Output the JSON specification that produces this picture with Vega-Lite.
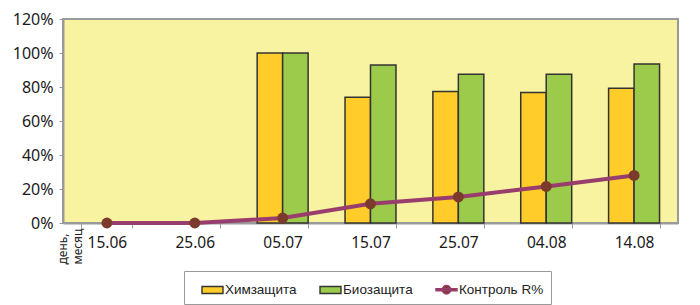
{
  "$schema": "https://vega.github.io/schema/vega-lite/v6.json",
  "width": 615,
  "height": 204,
  "autosize": "none",
  "padding": {"left": 63, "top": 19, "right": 22, "bottom": 82},
  "background": "white",
  "config": {
    "view": {"fill": "#F8F3A0", "stroke": "#9a9a9a", "strokeWidth": 2},
    "font": "Noto Sans"
  },
  "datasets": {
    "bars": [
      {"date": "05.07", "series": "Химзащита", "value": 1.0},
      {"date": "05.07", "series": "Биозащита", "value": 1.0},
      {"date": "15.07", "series": "Химзащита", "value": 0.74},
      {"date": "15.07", "series": "Биозащита", "value": 0.93},
      {"date": "25.07", "series": "Химзащита", "value": 0.773},
      {"date": "25.07", "series": "Биозащита", "value": 0.875},
      {"date": "04.08", "series": "Химзащита", "value": 0.767},
      {"date": "04.08", "series": "Биозащита", "value": 0.875},
      {"date": "14.08", "series": "Химзащита", "value": 0.793},
      {"date": "14.08", "series": "Биозащита", "value": 0.935}
    ],
    "ctrl": [
      {"date": "15.06", "value": 0.0},
      {"date": "25.06", "value": 0.0},
      {"date": "05.07", "value": 0.029},
      {"date": "15.07", "value": 0.113},
      {"date": "25.07", "value": 0.153},
      {"date": "04.08", "value": 0.215},
      {"date": "14.08", "value": 0.28}
    ]
  },
  "encoding": {
    "x": {
      "field": "date",
      "type": "nominal",
      "scale": {
        "domain": ["15.06", "25.06", "05.07", "15.07", "25.07", "04.08", "14.08"],
        "paddingInner": 0.42,
        "paddingOuter": 0.21
      },
      "axis": {
        "labelAngle": 0,
        "labelFontSize": 15.5,
        "labelColor": "#1a1a1a",
        "labelPadding": 7,
        "tickBand": "extent",
        "tickColor": "#9a9a9a",
        "tickSize": 5,
        "domainColor": "#9a9a9a",
        "domainWidth": 2,
        "title": ["день,", "месяц"],
        "titleAngle": 270,
        "titleFontSize": 12,
        "titleFontWeight": "normal",
        "titleColor": "#222",
        "titleLineHeight": 15,
        "titleAlign": "left",
        "titleBaseline": "top",
        "titleX": -6,
        "titleY": 41
      }
    },
    "y": {
      "field": "value",
      "type": "quantitative",
      "scale": {"domain": [0, 1.2], "nice": false},
      "axis": {
        "values": [0, 0.2, 0.4, 0.6, 0.8, 1.0, 1.2],
        "format": ".0%",
        "grid": false,
        "labelFontSize": 16,
        "labelColor": "#1a1a1a",
        "labelPadding": 6,
        "tickColor": "#9a9a9a",
        "tickSize": 4,
        "domainColor": "#9a9a9a",
        "domainWidth": 2,
        "title": null
      }
    }
  },
  "layer": [
    {
      "data": {"name": "bars"},
      "mark": {"type": "bar", "stroke": "#333333", "strokeWidth": 1.5},
      "encoding": {
        "xOffset": {
          "field": "series",
          "type": "nominal",
          "scale": {"domain": ["Химзащита", "Биозащита"], "paddingInner": 0, "paddingOuter": 0}
        },
        "color": {
          "field": "series",
          "type": "nominal",
          "scale": {
            "domain": ["Химзащита", "Биозащита"],
            "range": ["#FFCC29", "#9CCB4B"]
          },
          "legend": null
        }
      }
    },
    {
      "data": {"name": "ctrl"},
      "mark": {
        "type": "line",
        "color": "#993D6E",
        "strokeWidth": 4,
        "point": {"filled": true, "fill": "#7B3A2C", "size": 120, "opacity": 1}
      },
      "encoding": {}
    },
    {
      "data": {"name": "bars"},
      "transform": [{"filter": "false"}],
      "mark": {"type": "point", "filled": true, "size": 0, "opacity": 1},
      "encoding": {
        "fill": {
          "field": "series",
          "type": "nominal",
          "scale": {
            "domain": ["Химзащита", "Биозащита", "Контроль R%"],
            "range": ["#FFCC29", "#9CCB4B", "#7B3A2C"]
          },
          "legend": {
            "orient": "none", "legendX": 121, "legendY": 252, "direction": "horizontal",
            "title": "\u00a0", "titleOrient": "left", "titleFontSize": 13, "titlePadding": 10,
            "strokeColor": "#9a9a9a", "fillColor": "white", "padding": 7,
            "labelFont": "Liberation Sans", "labelFontSize": 13.5, "labelColor": "#222",
            "labelOffset": 1, "columnPadding": 20, "symbolSize": 441, "symbolStrokeWidth": 1.4, "symbolOpacity": 1,
            "labelExpr": "datum.label === 'Контроль R%' ? datum.label + '\u00a0\u00a0\u00a0\u00a0\u00a0\u00a0' : datum.label"
          }
        },
        "stroke": {
          "field": "series",
          "type": "nominal",
          "scale": {
            "domain": ["Химзащита", "Биозащита", "Контроль R%"],
            "range": ["#333333", "#333333", "#993D6E"]
          },
          "legend": {
            "orient": "none", "legendX": 121, "legendY": 252, "direction": "horizontal",
            "title": "\u00a0", "titleOrient": "left", "titleFontSize": 13, "titlePadding": 10,
            "strokeColor": "#9a9a9a", "fillColor": "white", "padding": 7,
            "labelFont": "Liberation Sans", "labelFontSize": 13.5, "labelColor": "#222",
            "labelOffset": 1, "columnPadding": 20, "symbolSize": 441, "symbolStrokeWidth": 1.4, "symbolOpacity": 1,
            "labelExpr": "datum.label === 'Контроль R%' ? datum.label + '\u00a0\u00a0\u00a0\u00a0\u00a0\u00a0' : datum.label"
          }
        },
        "shape": {
          "field": "series",
          "type": "nominal",
          "scale": {
            "domain": ["Химзащита", "Биозащита", "Контроль R%"],
            "range": [
              "M-1,-0.33H1V0.33H-1Z",
              "M-1,-0.33H1V0.33H-1Z",
              "M-1,-0.09H1V0.09H-1ZM0.4,0A0.4,0.4 0 1,1 -0.4,0A0.4,0.4 0 1,1 0.4,0Z"
            ]
          },
          "legend": {
            "orient": "none", "legendX": 121, "legendY": 252, "direction": "horizontal",
            "title": "\u00a0", "titleOrient": "left", "titleFontSize": 13, "titlePadding": 10,
            "strokeColor": "#9a9a9a", "fillColor": "white", "padding": 7,
            "labelFont": "Liberation Sans", "labelFontSize": 13.5, "labelColor": "#222",
            "labelOffset": 1, "columnPadding": 20, "symbolSize": 441, "symbolStrokeWidth": 1.4, "symbolOpacity": 1,
            "labelExpr": "datum.label === 'Контроль R%' ? datum.label + '\u00a0\u00a0\u00a0\u00a0\u00a0\u00a0' : datum.label"
          }
        }
      }
    }
  ]
}
